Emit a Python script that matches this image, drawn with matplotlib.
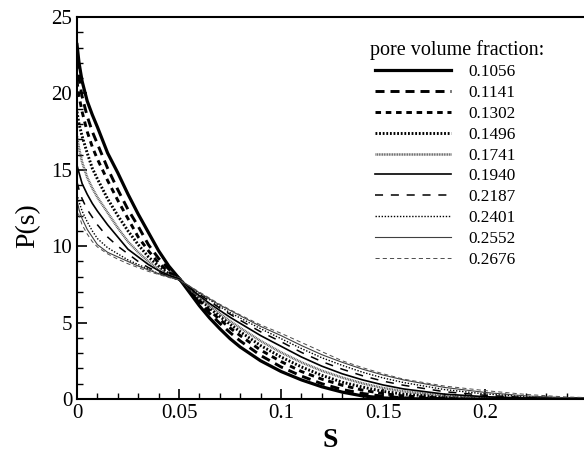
import matplotlib
matplotlib.use("Agg")
import matplotlib.pyplot as plt
from matplotlib.ticker import MultipleLocator, FuncFormatter

plt.rcParams['font.family'] = ['Liberation Serif', 'DejaVu Serif']
plt.rcParams['lines.scale_dashes'] = False

s_grid = [0, 0.001, 0.0025, 0.005, 0.0075, 0.01, 0.015, 0.02, 0.025, 0.03, 0.035,
          0.04, 0.045, 0.05, 0.055, 0.06, 0.065, 0.07, 0.075, 0.08, 0.09, 0.10,
          0.11, 0.12, 0.13, 0.14, 0.15, 0.16, 0.18, 0.20, 0.22, 0.24, 0.2485]

fractions = ["0.1056", "0.1141", "0.1302", "0.1496", "0.1741",
             "0.1940", "0.2187", "0.2401", "0.2552", "0.2676"]

p_1056 = [23.2, 22.0, 20.8, 19.5, 18.6, 17.8, 16.1, 14.8, 13.4, 12.1, 10.9, 9.7, 8.7,
          7.9, 7.0, 6.1, 5.3, 4.6, 3.95, 3.4, 2.5, 1.8,
          1.25, 0.8, 0.45, 0.2, 0.07, 0.02, 0, 0, 0, 0, 0]
p_1141 = [22.2, 21.0, 19.8, 18.5, 17.5, 16.7, 15.1, 13.7, 12.4, 11.3, 10.1, 9.2, 8.5,
          7.9, 7.1, 6.3, 5.6, 4.95, 4.35, 3.8, 2.85, 2.1,
          1.5, 1.0, 0.62, 0.36, 0.18, 0.08, 0.02, 0, 0, 0, 0]
p_1302 = [20.8, 19.8, 18.8, 17.5, 16.5, 15.7, 14.3, 13.0, 11.8, 10.6, 9.7, 8.9, 8.3,
          7.9, 7.15, 6.45, 5.8, 5.2, 4.65, 4.15, 3.2, 2.45,
          1.8, 1.3, 0.9, 0.58, 0.35, 0.2, 0.06, 0.01, 0, 0, 0]
p_1496 = [18.8, 18.0, 17.2, 16.1, 15.1, 14.4, 13.1, 12.0, 11.0, 10.1, 9.3, 8.7, 8.2,
          7.9, 7.2, 6.55, 5.95, 5.4, 4.9, 4.4, 3.5, 2.75,
          2.1, 1.55, 1.1, 0.78, 0.5, 0.32, 0.12, 0.04, 0.01, 0, 0]
p_1741 = [17.2, 16.4, 15.5, 14.5, 13.8, 13.2, 12.2, 11.2, 10.3, 9.6, 9.0, 8.5, 8.1,
          7.9, 7.25, 6.65, 6.1, 5.6, 5.1, 4.65, 3.8, 3.05,
          2.4, 1.85, 1.4, 1.02, 0.72, 0.5, 0.22, 0.09, 0.03, 0.01, 0]
p_1940 = [15.3, 14.8, 14.1, 13.4, 12.8, 12.3, 11.4, 10.6, 9.8, 9.3, 8.8, 8.4, 8.1,
          7.85, 7.3, 6.75, 6.25, 5.8, 5.35, 4.95, 4.15, 3.45,
          2.75, 2.15, 1.65, 1.25, 0.92, 0.66, 0.32, 0.15, 0.06, 0.02, 0.01]
p_2187 = [14.2, 13.7, 13.1, 12.4, 11.9, 11.4, 10.6, 10.0, 9.5, 9.0, 8.6, 8.3, 8.0,
          7.8, 7.3, 6.85, 6.4, 5.95, 5.55, 5.15, 4.4, 3.75,
          3.05, 2.45, 1.95, 1.52, 1.17, 0.9, 0.48, 0.24, 0.1, 0.04, 0.03]
p_2401 = [13.4, 12.9, 12.3, 11.6, 11.0, 10.5, 9.9, 9.5, 9.1, 8.8, 8.5, 8.2, 8.0,
          7.8, 7.35, 6.9, 6.5, 6.05, 5.65, 5.3, 4.6, 3.95,
          3.3, 2.7, 2.2, 1.75, 1.38, 1.08, 0.62, 0.33, 0.16, 0.06, 0.05]
p_2552 = [13.0, 12.4, 11.8, 11.1, 10.6, 10.1, 9.6, 9.3, 9.0, 8.7, 8.45, 8.2, 8.0,
          7.8, 7.4, 6.95, 6.55, 6.15, 5.8, 5.45, 4.75, 4.15,
          3.5, 2.9, 2.4, 1.95, 1.57, 1.25, 0.76, 0.43, 0.2, 0.08, 0.06]
p_2676 = [12.6, 12.0, 11.4, 10.8, 10.3, 9.95, 9.5, 9.15, 8.85, 8.6, 8.35, 8.15, 7.95,
          7.8, 7.4, 7.0, 6.6, 6.2, 5.85, 5.5, 4.85, 4.3,
          3.7, 3.1, 2.5, 2.05, 1.65, 1.3, 0.85, 0.55, 0.3, 0.13, 0.1]

series = [p_1056, p_1141, p_1302, p_1496, p_1741, p_1940, p_2187, p_2401, p_2552, p_2676]

styles = [
    dict(color='black', lw=2.3, ls='-'),
    dict(color='black', lw=2.1, dashes=(6.5, 4.3)),
    dict(color='black', lw=2.1, dashes=(4.0, 3.4)),
    dict(color='black', lw=2.1, dashes=(1.3, 1.3)),
    dict(color='0.35', lw=1.8, dashes=(0.7, 0.5)),
    dict(color='black', lw=1.2, ls='-'),
    dict(color='black', lw=1.1, dashes=(5.8, 5.6)),
    dict(color='black', lw=1.0, dashes=(1.0, 1.2)),
    dict(color='0.25', lw=0.8, ls='-'),
    dict(color='0.3', lw=0.7, dashes=(3.0, 2.2)),
]

fig = plt.figure(figsize=(5.84, 4.55), dpi=100)
ax = fig.add_axes([77/584, 1 - 399/455, 507/584, 382/455])

for vals, lab, st in zip(series, fractions, styles):
    ax.plot(s_grid, vals, label=lab, **st)

ax.set_xlim(0, 0.2485)
ax.set_ylim(0, 25)
ax.xaxis.set_major_locator(MultipleLocator(0.05))
ax.xaxis.set_minor_locator(MultipleLocator(0.01))
ax.yaxis.set_major_locator(MultipleLocator(5))
ax.yaxis.set_minor_locator(MultipleLocator(1))
ax.xaxis.set_major_formatter(FuncFormatter(lambda v, p: ('%g' % round(v, 4))))
ax.tick_params(which='both', direction='in', top=False, right=False, labelsize=15)
ax.tick_params(which='major', length=7, width=1.2)
ax.tick_params(which='minor', length=4, width=1.0)
ax.spines['right'].set_visible(False)
for sp in ['left', 'bottom', 'top']:
    ax.spines[sp].set_linewidth(1.5)

ax.set_xlabel('S', fontsize=20, fontweight='bold', labelpad=4)
ax.set_ylabel('P(s)', fontsize=20)
ax.yaxis.set_label_coords(-0.073, 0.455)

ax.text(0.578, 0.914, 'pore volume fraction:', transform=ax.transAxes,
        fontsize=14.5, ha='left', va='center')
ax.legend(loc='upper left', bbox_to_anchor=(0.588, 0.877), frameon=False,
          fontsize=12.4, handlelength=4.4, handletextpad=1.0, labelspacing=0.28,
          borderpad=0, borderaxespad=0)

fig.savefig('out.png', dpi=100)
